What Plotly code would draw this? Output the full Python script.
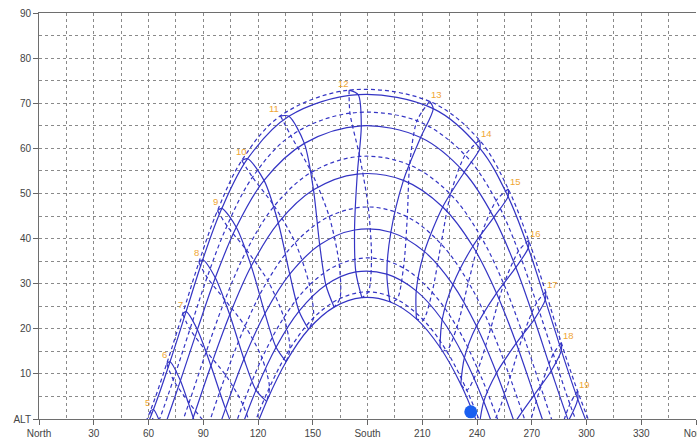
import plotly.graph_objects as go

# Hours of the day (rows of each month series)
hours = [4, 5, 6, 7, 8, 9, 10, 11, 12, 13, 14, 15, 16, 17, 18, 19, 20]
months = ["Jan", "Feb", "Mar", "Apr", "May", "Jun",
          "Jul", "Aug", "Sep", "Oct", "Nov", "Dec"]

# Sun azimuth (deg from North) / altitude (deg) on the 1st of each month, per hour
az_jan = [None, 97.6, 106.2, 115.1, 124.7, 135.4, 147.7, 161.7, 176.9, 192.2, 206.8, 219.7, 231.1, 241.1, 250.2, 258.9, None]
alt_jan = [None, -28.0, -16.8, -6.0, 3.9, 12.7, 19.9, 24.8, 26.9, 26.0, 22.2, 15.9, 7.7, -1.9, -12.3, -23.4, None]
az_feb = [None, 90.7, 99.9, 109.1, 118.9, 129.9, 142.5, 157.2, 173.6, 190.6, 206.7, 220.9, 233.1, 243.7, 253.2, 262.4, None]
alt_feb = [None, -26.6, -15.2, -4.0, 6.4, 15.9, 23.9, 29.7, 32.6, 32.1, 28.4, 22.0, 13.6, 3.9, -6.8, -18.0, None]
az_mar = [71.9, 82.8, 92.6, 102.2, 112.3, 123.8, 137.4, 153.8, 172.9, 192.8, 211.2, 226.8, 239.7, 250.7, 260.6, 270.2, 280.2]
alt_mar = [-31.8, -20.6, -9.1, 2.3, 13.3, 23.4, 32.1, 38.6, 41.9, 41.4, 37.1, 29.8, 20.6, 10.2, -0.9, -12.4, -23.8]
az_apr = [63.8, 74.7, 84.5, 94.2, 104.5, 116.3, 131.1, 150.4, 174.4, 199.7, 221.2, 237.7, 250.7, 261.5, 271.3, 281.0, 291.3]
alt_apr = [-21.7, -10.9, 0.3, 11.8, 23.1, 33.9, 43.5, 50.8, 54.3, 52.9, 47.0, 38.3, 27.9, 16.8, 5.3, -6.1, -17.1]
az_may = [57.6, 68.0, 77.5, 86.8, 96.6, 108.1, 123.3, 145.4, 176.6, 209.1, 233.0, 249.2, 261.3, 271.4, 280.7, 290.1, 300.2]
alt_may = [-12.7, -2.5, 8.5, 19.8, 31.3, 42.5, 52.9, 61.1, 65.0, 62.4, 54.7, 44.7, 33.6, 22.1, 10.7, -0.4, -10.8]
az_jun = [52.7, 62.7, 71.8, 80.6, 89.7, 100.2, 114.3, 136.9, 174.9, 216.0, 241.6, 257.0, 268.1, 277.4, 286.2, 295.2, 304.9]
alt_jun = [-7.6, 2.1, 12.7, 23.8, 35.3, 46.7, 57.7, 67.1, 71.9, 68.8, 60.0, 49.3, 37.9, 26.4, 15.2, 4.4, -5.5]
az_jul = [50.9, 61.0, 70.0, 78.7, 87.6, 97.8, 111.1, 132.3, 169.9, 214.1, 241.4, 257.1, 268.3, 277.6, 286.2, 295.1, 304.6]
alt_jul = [-7.7, 1.8, 12.3, 23.3, 34.7, 46.2, 57.3, 67.2, 72.9, 70.4, 61.8, 51.0, 39.6, 28.2, 16.9, 6.2, -3.8]
az_aug = [53.8, 64.2, 73.6, 82.7, 92.1, 103.0, 117.0, 138.0, 170.4, 207.1, 233.5, 250.5, 262.7, 272.6, 281.8, 290.9, 300.8]
alt_aug = [-11.8, -2.0, 8.7, 19.9, 31.4, 42.8, 53.6, 62.8, 67.8, 66.1, 58.5, 48.4, 37.2, 25.7, 14.4, 3.3, -7.0]
az_sep = [61.7, 72.4, 82.2, 91.7, 101.9, 113.8, 128.9, 149.3, 175.7, 203.1, 225.5, 242.0, 254.7, 265.3, 274.9, 284.5, 294.9]
alt_sep = [-18.2, -7.6, 3.6, 15.0, 26.4, 37.4, 47.2, 54.7, 58.2, 56.3, 49.8, 40.5, 29.9, 18.6, 7.1, -4.2, -15.0]
az_oct = [72.2, 82.8, 92.5, 102.3, 112.9, 125.3, 140.4, 159.0, 180.4, 201.8, 220.3, 235.3, 247.6, 258.1, 267.9, 277.6, 288.2]
alt_oct = [-24.4, -13.2, -1.7, 9.7, 20.6, 30.7, 39.1, 44.9, 47.0, 44.8, 38.8, 30.3, 20.2, 9.2, -2.2, -13.6, -24.8]
az_nov = [None, 92.9, 102.2, 111.7, 122.2, 134.2, 148.2, 164.5, 182.2, 199.7, 215.4, 229.0, 240.5, 250.7, 260.1, 269.5, None]
alt_nov = [None, -19.1, -7.7, 3.2, 13.5, 22.5, 29.7, 34.3, 35.7, 33.5, 28.1, 20.4, 11.0, 0.6, -10.5, -22.0, None]
az_dec = [None, 98.5, 107.3, 116.4, 126.3, 137.5, 150.4, 164.9, 180.5, 196.1, 210.5, 223.3, 234.4, 244.2, 253.2, 262.0, None]
alt_dec = [None, -24.6, -13.4, -2.8, 7.0, 15.6, 22.4, 26.7, 28.2, 26.5, 22.0, 15.1, 6.4, -3.5, -14.2, -25.4, None]

# Current sun position marker
sun_az = [236.6]
sun_alt = [1.6]

# Axis ticks
x_tickvals = [0, 30, 60, 90, 120, 150, 180, 210, 240, 270, 300, 330, 360]
x_ticktext = ["North", "30", "60", "90", "120", "150", "South", "210", "240", "270", "300", "330", "North"]
y_tickvals = [0, 10, 20, 30, 40, 50, 60, 70, 80, 90]
y_ticktext = ["ALT", "10", "20", "30", "40", "50", "60", "70", "80", "90"]

AZ = [az_jan, az_feb, az_mar, az_apr, az_may, az_jun, az_jul, az_aug, az_sep, az_oct, az_nov, az_dec]
ALT = [alt_jan, alt_feb, alt_mar, alt_apr, alt_may, alt_jun, alt_jul, alt_aug, alt_sep, alt_oct, alt_nov, alt_dec]

LINE = "#3434c4"
DASH = "4px,3px"
fig = go.Figure()

# Monthly day paths: Jan-Jun solid, Jul-Dec dashed
for m in range(12):
    fig.add_trace(go.Scatter(
        x=AZ[m], y=ALT[m], mode="lines", name=months[m],
        line=dict(color=LINE, width=1.2, dash="solid" if m < 6 else DASH,
                  shape="spline", smoothing=1.0),
        hoverinfo="skip", showlegend=False))

# Hour analemmas
for hi, h in enumerate(hours):
    if h < 5 or h > 19:
        continue
    col_az = [AZ[m][hi] for m in range(12)]
    col_alt = [ALT[m][hi] for m in range(12)]
    fig.add_trace(go.Scatter(
        x=col_az[0:7], y=col_alt[0:7], mode="lines",
        line=dict(color=LINE, width=1.2, shape="spline", smoothing=0.8),
        hoverinfo="skip", showlegend=False))
    fig.add_trace(go.Scatter(
        x=col_az[6:12] + [col_az[0]], y=col_alt[6:12] + [col_alt[0]], mode="lines",
        line=dict(color=LINE, width=1.2, dash=DASH, shape="spline", smoothing=0.8),
        hoverinfo="skip", showlegend=False))
    k = max(range(12), key=lambda i: col_alt[i])
    fig.add_annotation(x=col_az[k], y=col_alt[k], text=str(h), showarrow=False,
                       xshift=-6 if h <= 12 else 7, yshift=7,
                       font=dict(family="Liberation Sans", size=9.5, color="#f0a634"))

fig.add_trace(go.Scatter(x=sun_az, y=sun_alt, mode="markers",
                         marker=dict(size=13, color="#1a5ff0"),
                         hoverinfo="skip", showlegend=False))

grid = dict(gridcolor="#8a8a8a", griddash="3px,3px", gridwidth=1)
fig.update_xaxes(range=[0, 360], tickvals=x_tickvals, ticktext=x_ticktext,
                 ticks="outside", ticklen=5, tickcolor="#666",
                 ticklabeloverflow="allow", automargin=False,
                 showline=True, linecolor="#6e6e6e", linewidth=1, mirror=True,
                 showgrid=True, zeroline=False,
                 minor=dict(dtick=15, tick0=0, showgrid=True, ticks="", **grid),
                 **grid)
fig.update_yaxes(range=[0, 90], tickvals=y_tickvals, ticktext=y_ticktext,
                 ticks="outside", ticklen=5, tickcolor="#666",
                 automargin=False,
                 showline=True, linecolor="#6e6e6e", linewidth=1,
                 showgrid=True, zeroline=False,
                 minor=dict(dtick=5, tick0=0, showgrid=True, ticks="", **grid),
                 **grid)
fig.update_layout(width=697, height=443,
                  margin=dict(l=39, r=1, t=13, b=24, autoexpand=False),
                  paper_bgcolor="white", plot_bgcolor="white",
                  font=dict(family="Liberation Sans", size=10, color="#444"))
fig.write_html("out.html", config={"displayModeBar": False},
               post_script="document.body.style.margin='0px';document.body.style.overflow='hidden';")
